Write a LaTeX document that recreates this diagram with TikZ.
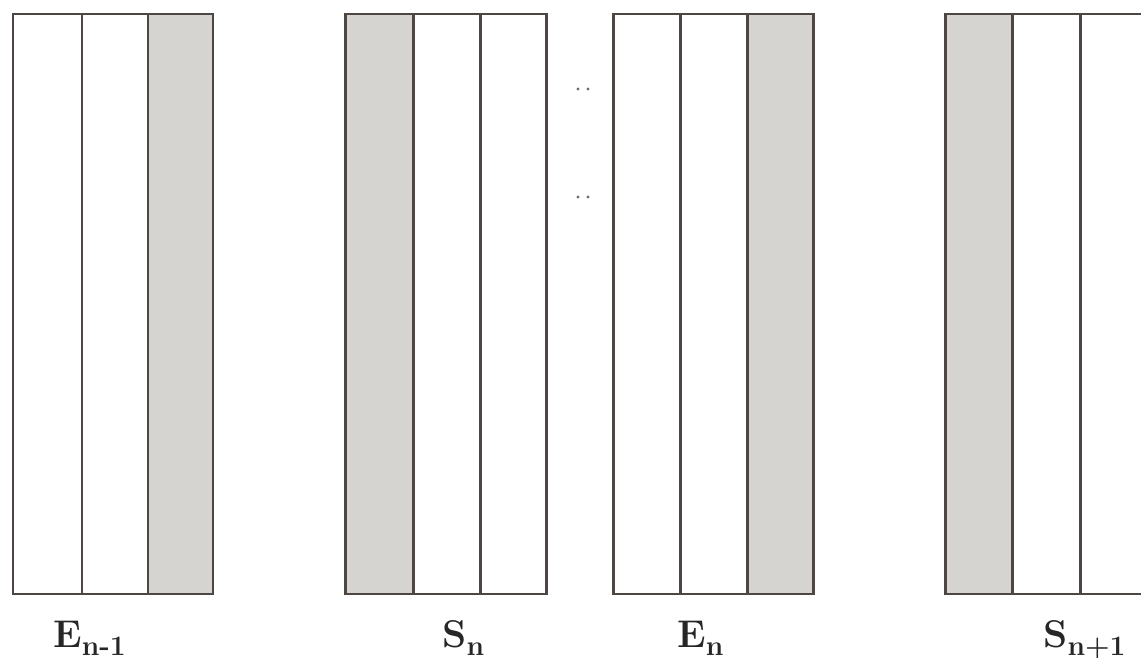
\documentclass[tikz,border=0pt]{standalone}
\usepackage{tikz}
\usetikzlibrary{positioning, calc}

% subscript drawn lower and smaller, as in the scan
\newcommand{\blocklab}[2]{#1\raisebox{-0.16cm}{\fontsize{16}{18}\selectfont #2}}

\begin{document}
\begin{tikzpicture}[x=0.02cm, y=-0.02cm, font=\fontsize{22}{26}\selectfont\bfseries]

% ── Colour palette ──────────────────────────────────────────
\definecolor{rule}{RGB}{78,70,66}
\definecolor{shade}{RGB}{214,212,208}
\tikzset{
  cell/.style={draw=rule, line width=1.7pt},
  grey/.style={cell, fill=shade},
  tag/.style={inner sep=0pt, anchor=base west, text depth=0pt, text=black!85},
  dotty/.style={fill=rule!80, draw=none}
}

\useasboundingbox (0,0) rectangle (1141,658);

% ── Block E_{n-1} (shaded on the right) ────────────────────
\draw[grey] (148,14) rectangle (213,594);
\draw[cell] (13,14) rectangle (82,594);
\draw[cell] (82,14) rectangle (148,594);
\node[tag] (Enm) at (53,647) {\blocklab{E}{n-1}};

% ── Block S_n (shaded on the left) ─────────────────────────
\draw[grey] (345,14) rectangle (413,594);
\draw[cell] (413,14) rectangle (480,594);
\draw[cell] (480,14) rectangle (546,594);
\node[tag] (Sn) at (442,647) {\blocklab{S}{n}};

% ── gap dots ────────────────────────────────────────────────
\fill[dotty] (578,89) circle (1.6) (588,89) circle (1.6);
\fill[dotty] (578,197) circle (1.6) (588,197) circle (1.6);

% ── Block E_n (shaded on the right) ────────────────────────
\draw[grey] (747,14) rectangle (813,594);
\draw[cell] (613,14) rectangle (680,594);
\draw[cell] (680,14) rectangle (747,594);
\node[tag] (En) at (677,647) {\blocklab{E}{n}};

% ── Block S_{n+1} (shaded on the left, cut at the edge) ────
\draw[grey] (945,14) rectangle (1012,594);
\draw[cell] (1012,14) rectangle (1080,594);
\draw[cell] (1080,14) rectangle (1146,594);
\node[tag] (Snp) at (1043,647) {\blocklab{S}{n+1}};

\end{tikzpicture}
\end{document}
